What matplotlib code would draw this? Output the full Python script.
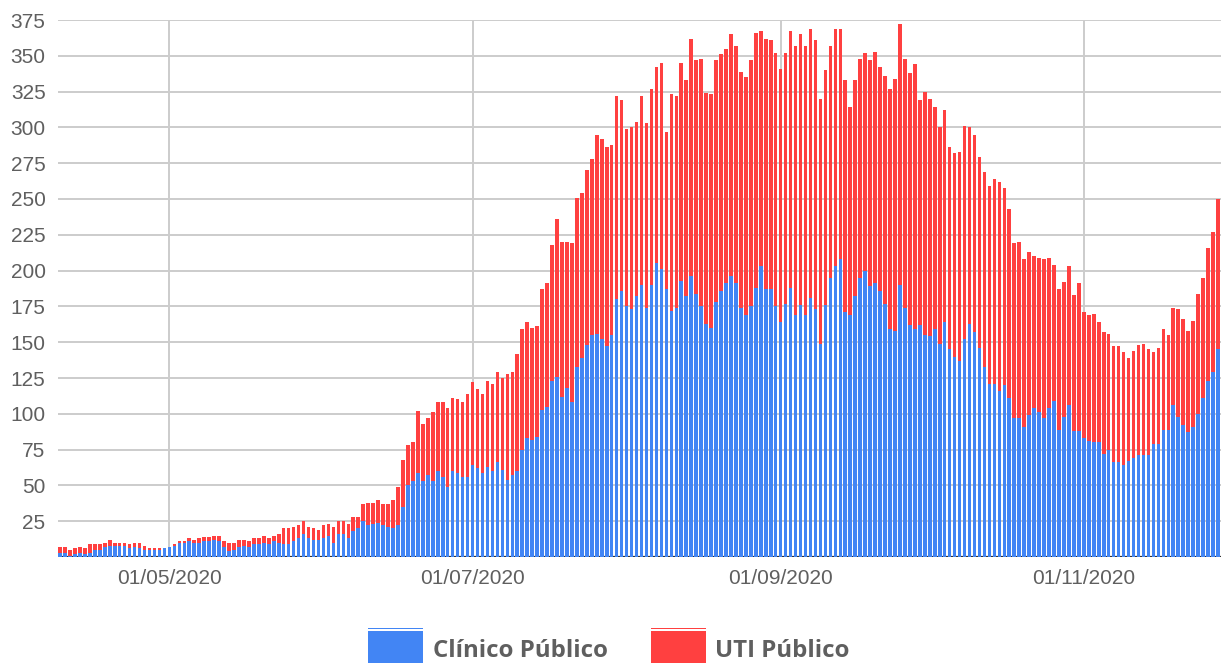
import matplotlib
matplotlib.use('Agg')
import matplotlib.pyplot as plt
import matplotlib.dates as mdates
from matplotlib.patches import Rectangle
import pandas as pd

# daily counts, 09/04/2020 .. 28/11/2020 (one value per day)
clinico_abr = [3, 3, 1, 2, 3, 2, 3, 5, 5, 7, 8, 8, 8, 8, 6, 7, 6, 5, 5, 5, 5, 6]
clinico_mai = [7, 8, 10, 10, 11, 10, 10, 11, 11, 12, 11, 7, 4, 5, 7, 8, 7, 9, 9, 10, 9, 11, 10, 9, 9,
               11, 13, 16, 13, 12, 12]
clinico_jun = [13, 15, 10, 16, 16, 13, 18, 20, 25, 22, 23, 24, 22, 21, 20, 22, 35, 50, 53, 59, 53, 57,
               53, 60, 56, 49, 60, 59, 56, 56]
clinico_jul = [64, 62, 59, 63, 60, 66, 61, 54, 57, 60, 75, 83, 82, 84, 103, 105, 123, 126, 112, 118,
               108, 133, 139, 148, 155, 156, 152, 147, 155, 180, 186]
clinico_ago = [175, 173, 182, 190, 174, 190, 205, 201, 187, 172, 174, 193, 182, 196, 184, 175, 163,
               160, 178, 186, 191, 196, 191, 174, 169, 175, 188, 203, 187, 187, 175]
clinico_set = [164, 177, 188, 169, 176, 169, 181, 173, 149, 176, 195, 203, 208, 171, 169, 182, 195,
               200, 189, 191, 186, 177, 159, 158, 190, 174, 162, 159, 162, 155]
clinico_out = [154, 159, 149, 164, 145, 140, 137, 152, 163, 157, 146, 133, 121, 121, 116, 120, 111,
               97, 97, 91, 99, 104, 101, 97, 104, 109, 89, 98, 106, 88, 88]
clinico_nov = [83, 81, 80, 80, 72, 75, 66, 66, 64, 67, 69, 71, 71, 71, 79, 79, 89, 89, 106, 98, 92,
               87, 91, 100, 111, 123, 129, 145]

uti_abr = [4, 4, 4, 4, 4, 4, 6, 4, 4, 3, 4, 2, 2, 2, 3, 3, 4, 3, 1, 1, 1, 0]
uti_mai = [0, 1, 1, 1, 2, 2, 3, 3, 3, 3, 4, 4, 6, 5, 5, 4, 4, 4, 4, 5, 4, 4, 6, 11, 11, 10, 9, 9, 8,
           8, 7]
uti_jun = [9, 8, 11, 9, 9, 10, 10, 8, 12, 16, 15, 16, 15, 16, 20, 27, 33, 28, 27, 43, 40, 40, 48, 48,
           52, 55, 51, 51, 52, 58]
uti_jul = [58, 55, 55, 60, 61, 63, 64, 74, 72, 82, 84, 81, 78, 77, 84, 86, 95, 110, 108, 102, 111,
           118, 115, 122, 123, 139, 140, 139, 133, 142, 133]
uti_ago = [124, 127, 122, 132, 129, 137, 137, 144, 110, 151, 148, 152, 151, 166, 163, 173, 161, 163,
           169, 165, 164, 169, 166, 165, 166, 172, 178, 164, 175, 174, 177]
uti_set = [177, 175, 179, 188, 189, 188, 188, 188, 171, 164, 162, 166, 161, 162, 145, 151, 153, 152,
           158, 162, 156, 159, 168, 176, 182, 174, 176, 185, 157, 170]
uti_out = [166, 155, 151, 148, 141, 142, 146, 149, 137, 138, 133, 136, 138, 143, 146, 138, 132, 122,
           123, 117, 114, 106, 108, 111, 105, 95, 98, 94, 97, 95, 103]
uti_nov = [88, 88, 90, 84, 85, 81, 81, 81, 79, 72, 75, 77, 78, 74, 64, 67, 70, 66, 68, 75, 74, 71,
           74, 84, 84, 93, 98, 105]

clinico = (clinico_abr + clinico_mai + clinico_jun + clinico_jul + clinico_ago + clinico_set
           + clinico_out + clinico_nov)
uti = uti_abr + uti_mai + uti_jun + uti_jul + uti_ago + uti_set + uti_out + uti_nov
dias = pd.date_range('2020-04-09', periods=len(clinico), freq='D')

tick_dates = ['2020-05-01', '2020-07-01', '2020-09-01', '2020-11-01']
y_ticks = list(range(25, 376, 25))

BLUE = '#4285f4'
RED = '#ff4040'
GRID = '#cccccc'
TXT = '#5f5f5f'

plt.rcParams['font.family'] = ['Liberation Sans', 'DejaVu Sans']

fig = plt.figure(figsize=(12.22, 6.63), dpi=100)
ax = fig.add_axes([58 / 1222, 1 - 557 / 663, 1162.5 / 1222, 537 / 663])

ax.bar(dias, clinico, width=0.72, color=BLUE, zorder=2)
ax.bar(dias, uti, width=0.72, bottom=clinico, color=RED, zorder=2)

ax.set_ylim(0, 375)
ax.set_xlim(dias[0] - pd.Timedelta(hours=10), dias[-1] + pd.Timedelta(hours=12))
ax.set_yticks(y_ticks)
ticks = pd.to_datetime(tick_dates)
ax.set_xticks(ticks)
ax.xaxis.set_major_formatter(mdates.DateFormatter('%d/%m/%Y'))

for v in y_ticks:
    ax.axhline(v, color=GRID, lw=1.4, zorder=1)
for t in ticks:
    ax.axvline(t, color=GRID, lw=1.4, zorder=1)
ax.axhline(0, color='#333333', lw=1.6, zorder=1.5)

for s in ax.spines.values():
    s.set_visible(False)
ax.tick_params(axis='both', length=0, labelsize=15, colors=TXT)
ax.tick_params(axis='y', pad=9)
ax.tick_params(axis='x', pad=9)

# legend, drawn like the original (boxes cut by the bottom edge)
for x0, col, label, tx in [(368, BLUE, 'Clínico Público', 433), (651, RED, 'UTI Público', 715)]:
    fig.add_artist(Rectangle((x0 / 1222, 0), 55 / 1222, 32 / 663, transform=fig.transFigure,
                             color=col, lw=0))
    fig.add_artist(Rectangle((x0 / 1222, 34 / 663), 55 / 1222, 1.2 / 663, transform=fig.transFigure,
                             color=col, lw=0))
    fig.text(tx / 1222, 1 - 651 / 663, label, fontsize=17.3, fontweight='bold', color=TXT,
             family=['Open Sans', 'DejaVu Sans'], va='center', ha='left')

fig.savefig('out.png', dpi=100)
